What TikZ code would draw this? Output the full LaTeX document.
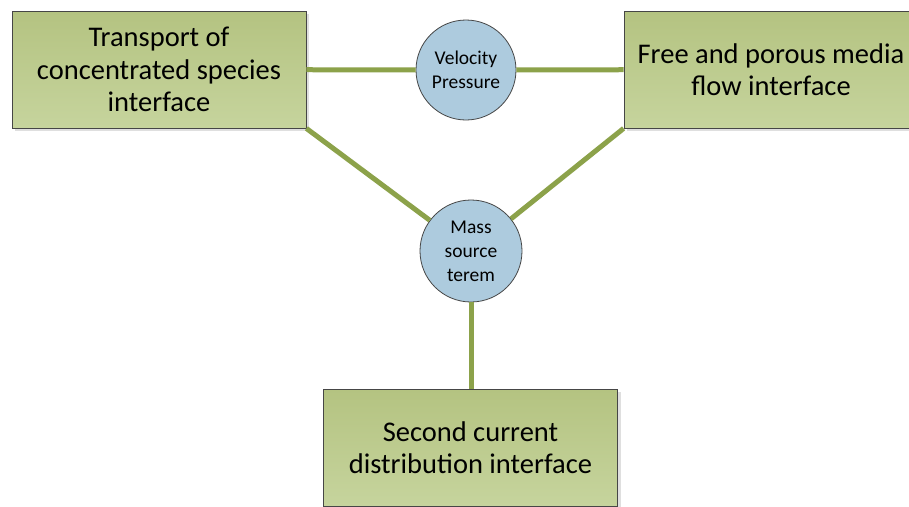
\documentclass[tikz,border=0pt]{standalone}
\usepackage{fontspec}
\setmainfont{Carlito}
\usetikzlibrary{shadows}
\definecolor{cboxtop}{RGB}{180,195,129}
\definecolor{cboxbot}{RGB}{198,212,157}
\definecolor{cball}{RGB}{173,203,222}
\definecolor{clink}{RGB}{140,162,74}
\definecolor{cedge}{RGB}{70,70,70}

\begin{document}
\begin{tikzpicture}[x=1pt,y=-1pt]

\clip (0,0) rectangle (909,506);
\fill[white] (0,0) rectangle (909,506);

% interface boxes
\begin{scope}[every node/.style={draw=cedge,line width=0.8pt,rectangle,top color=cboxtop,bottom color=cboxbot,minimum width=294,minimum height=117,inner sep=0pt,align=center,drop shadow={shadow xshift=3pt,shadow yshift=-3pt,opacity=0.25},font=\fontsize{28.5}{32.5}\selectfont}]
\node (transport) at (159,69.5) {Transport of\\concentrated species\\interface};
\node (flow) at (771,69.5) {Free and porous media\\flow interface};
\node (current) at (470.5,447.5) {Second current\\distribution interface};
\end{scope}

% coupling variables
\begin{scope}[every node/.style={draw=cedge,line width=0.8pt,circle,fill=cball,inner sep=0pt,align=center,font=\fontsize{19.5}{24}\selectfont}]
\node[minimum size=100] (vel) at (466,70) {Velocity\\Pressure};
\node[minimum size=102] (mass) at (471,251) {Mass\\source\\terem};
\end{scope}

\begin{scope}[line width=5pt,color=clink]
\draw[-] (transport) to (vel);
\draw[-] (vel) to (flow);
\draw[-] (transport.south east) to (mass);
\draw[-] (flow.south west) to (mass);
\draw[-] (mass) to (mass |- current.north);
\end{scope}

\end{tikzpicture}
\end{document}
